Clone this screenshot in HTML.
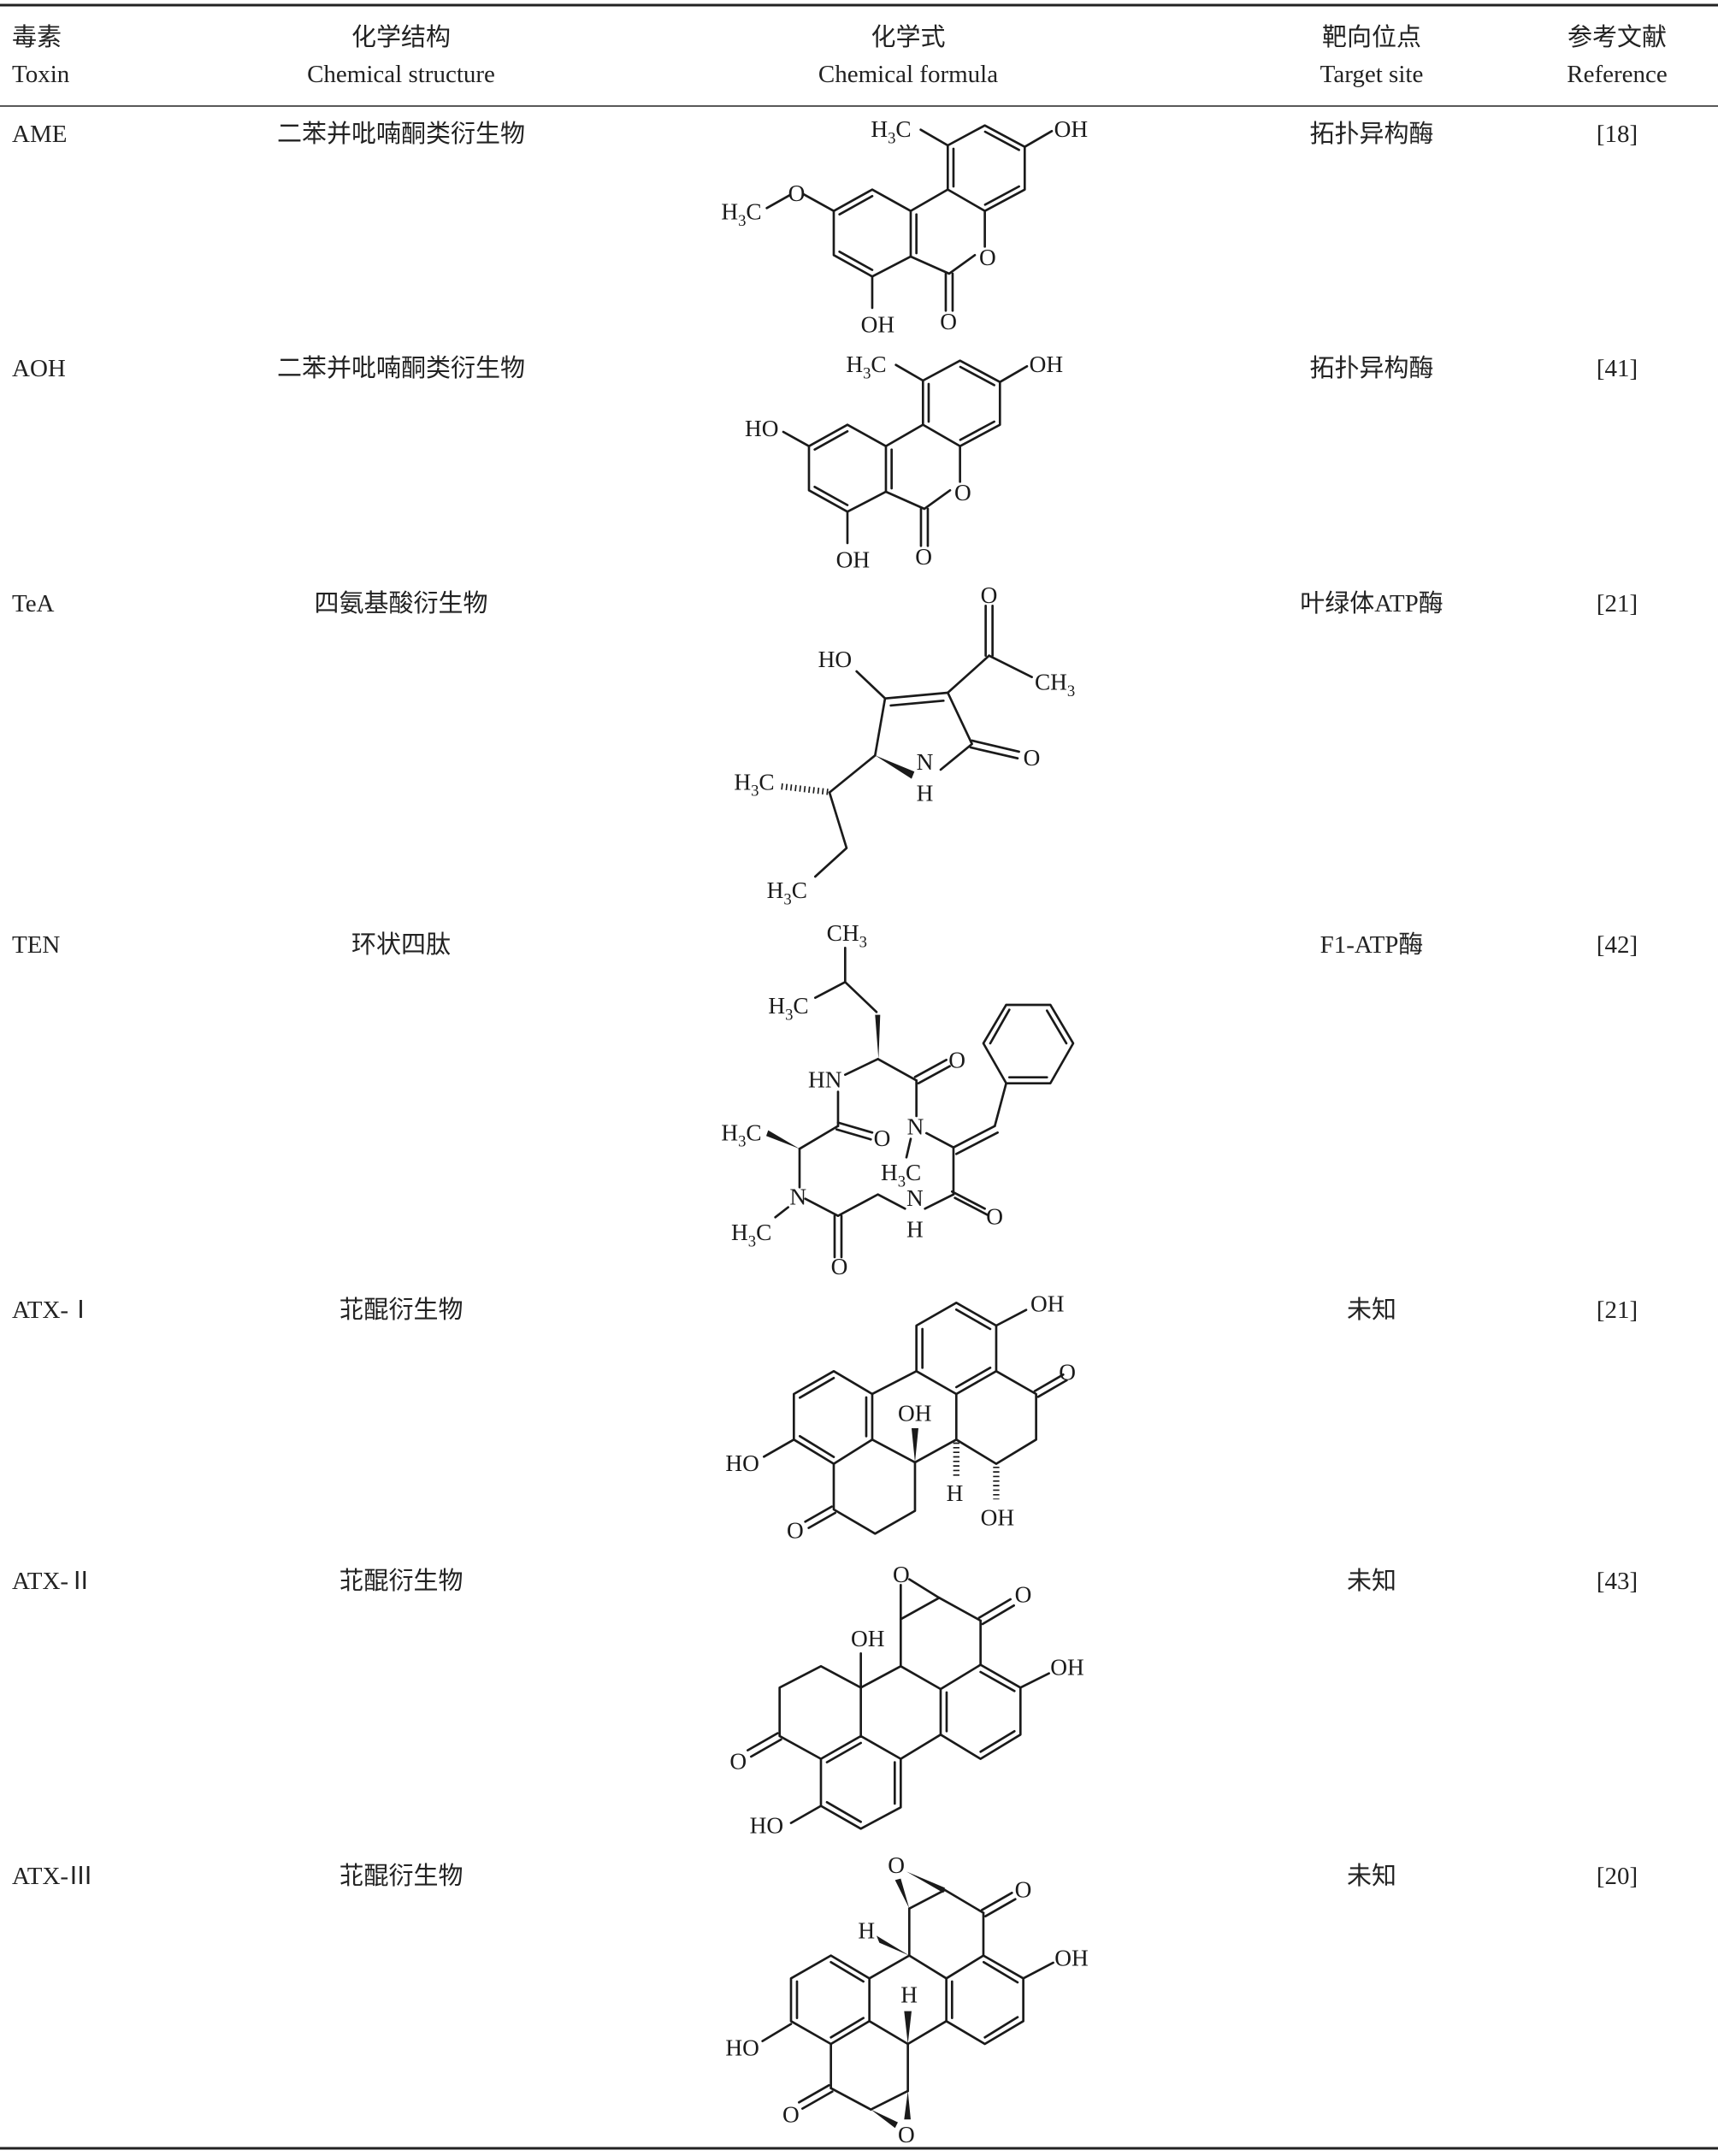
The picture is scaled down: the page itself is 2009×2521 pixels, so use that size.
<!DOCTYPE html>
<html><head><meta charset="utf-8"><style>
html,body{margin:0;padding:0;background:#fff;}
svg{display:block;}
.t{font-family:"Liberation Serif","Noto Sans CJK SC",serif;font-size:29px;fill:#222;}
.m{text-anchor:middle;}
.s line,.s polyline,.s polygon.r{stroke:#1a1a1a;stroke-width:8;fill:none;stroke-linecap:round;stroke-linejoin:round;}
.s polygon.w{fill:#1a1a1a;stroke:none;}
.s line.h{stroke-width:22;stroke-dasharray:5 11;stroke-linecap:butt;}
.s text{font-family:"Liberation Serif",serif;font-size:82px;fill:#1a1a1a;}
.s tspan.b{font-size:56px;}
</style></head><body>
<svg width="2009" height="2521" viewBox="0 0 2009 2521" xmlns="http://www.w3.org/2000/svg">
<rect width="2009" height="2521" fill="#fff"/>
<line x1="0" y1="6" x2="2009" y2="6" stroke="#222" stroke-width="3"/>
<line x1="0" y1="124" x2="2009" y2="124" stroke="#222" stroke-width="1.5"/>
<line x1="0" y1="2512" x2="2009" y2="2512" stroke="#222" stroke-width="3"/>

<text class="t" x="14" y="53">毒素</text><text class="t" x="14" y="96">Toxin</text>
<text class="t m" x="469" y="53">化学结构</text><text class="t m" x="469" y="96">Chemical structure</text>
<text class="t m" x="1062" y="53">化学式</text><text class="t m" x="1062" y="96">Chemical formula</text>
<text class="t m" x="1604" y="53">靶向位点</text><text class="t m" x="1604" y="96">Target site</text>
<text class="t m" x="1891" y="53">参考文献</text><text class="t m" x="1891" y="96">Reference</text>

<text class="t" x="14" y="166">AME</text><text class="t m" x="469" y="166">二苯并吡喃酮类衍生物</text><text class="t m" x="1604" y="166">拓扑异构酶</text><text class="t m" x="1891" y="166">[18]</text>
<text class="t" x="14" y="440">AOH</text><text class="t m" x="469" y="440">二苯并吡喃酮类衍生物</text><text class="t m" x="1604" y="440">拓扑异构酶</text><text class="t m" x="1891" y="440">[41]</text>
<text class="t" x="14" y="715">TeA</text><text class="t m" x="469" y="715">四氨基酸衍生物</text><text class="t m" x="1604" y="715">叶绿体ATP酶</text><text class="t m" x="1891" y="715">[21]</text>
<text class="t" x="14" y="1114">TEN</text><text class="t m" x="469" y="1114">环状四肽</text><text class="t m" x="1604" y="1114">F1-ATP酶</text><text class="t m" x="1891" y="1114">[42]</text>
<text class="t" x="14" y="1541">ATX-Ⅰ</text><text class="t m" x="469" y="1541">苝醌衍生物</text><text class="t m" x="1604" y="1541">未知</text><text class="t m" x="1891" y="1541">[21]</text>
<text class="t" x="14" y="1858">ATX-Ⅱ</text><text class="t m" x="469" y="1858">苝醌衍生物</text><text class="t m" x="1604" y="1858">未知</text><text class="t m" x="1891" y="1858">[43]</text>
<text class="t" x="14" y="2203">ATX-Ⅲ</text><text class="t m" x="469" y="2203">苝醌衍生物</text><text class="t m" x="1604" y="2203">未知</text><text class="t m" x="1891" y="2203">[20]</text>

<!-- AME -->
<g class="s" transform="translate(820,120) scale(0.3333)">
<polygon class="r" points="865,150 995,80 1135,155 1135,305 995,380 865,305"/>
<line x1="885" y1="162" x2="885" y2="294"/><line x1="996" y1="102" x2="1115" y2="166"/><line x1="996" y1="358" x2="1115" y2="294"/>
<polyline points="995,380 995,505"/><polyline points="960,535 870,600 735,540"/>
<polygon class="r" points="735,380 600,305 465,380 465,535 600,610 735,540"/>
<line x1="865" y1="305" x2="735" y2="380"/>
<line x1="600" y1="328" x2="485" y2="392"/><line x1="485" y1="523" x2="600" y2="587"/><line x1="755" y1="392" x2="755" y2="528"/>
<line x1="858" y1="600" x2="858" y2="730"/><line x1="882" y1="600" x2="882" y2="730"/>
<line x1="600" y1="610" x2="600" y2="720"/>
<line x1="865" y1="150" x2="770" y2="95"/><line x1="1135" y1="155" x2="1230" y2="100"/>
<line x1="465" y1="380" x2="360" y2="322"/>
<text x="975" y="570">O</text><text x="838" y="795">O</text><text x="560" y="805">OH</text>
<text x="1238" y="120">OH</text>
<text x="595" y="120">H<tspan class="b" dy="22">3</tspan><tspan dy="-22">C</tspan></text>
<line x1="310" y1="325" x2="230" y2="370"/>
<text x="305" y="345">O</text>
<text x="70" y="410">H<tspan class="b" dy="22">3</tspan><tspan dy="-22">C</tspan></text>
</g>
<!-- AOH -->
<g class="s" transform="translate(791,395) scale(0.3333)">
<polygon class="r" points="865,150 995,80 1135,155 1135,305 995,380 865,305"/>
<line x1="885" y1="162" x2="885" y2="294"/><line x1="996" y1="102" x2="1115" y2="166"/><line x1="996" y1="358" x2="1115" y2="294"/>
<polyline points="995,380 995,505"/><polyline points="960,535 870,600 735,540"/>
<polygon class="r" points="735,380 600,305 465,380 465,535 600,610 735,540"/>
<line x1="865" y1="305" x2="735" y2="380"/>
<line x1="600" y1="328" x2="485" y2="392"/><line x1="485" y1="523" x2="600" y2="587"/><line x1="755" y1="392" x2="755" y2="528"/>
<line x1="858" y1="600" x2="858" y2="730"/><line x1="882" y1="600" x2="882" y2="730"/>
<line x1="600" y1="610" x2="600" y2="720"/>
<line x1="865" y1="150" x2="770" y2="95"/><line x1="1135" y1="155" x2="1230" y2="100"/>
<line x1="465" y1="380" x2="375" y2="330"/>
<text x="975" y="570">O</text><text x="838" y="795">O</text><text x="560" y="805">OH</text>
<text x="1238" y="120">OH</text>
<text x="595" y="120">H<tspan class="b" dy="22">3</tspan><tspan dy="-22">C</tspan></text>
<text x="240" y="345">HO</text>
</g>

<!-- TeA -->
<g class="s" transform="translate(820,670) scale(0.3333)">
<polyline points="610,640 645,440 865,420 950,600 840,690"/>
<line x1="665" y1="465" x2="850" y2="448"/>
<line x1="645" y1="440" x2="545" y2="345"/>
<text x="410" y="330">HO</text>
<line x1="865" y1="420" x2="1010" y2="290"/>
<line x1="998" y1="290" x2="998" y2="115"/><line x1="1022" y1="290" x2="1022" y2="115"/>
<text x="980" y="105">O</text>
<line x1="1010" y1="290" x2="1160" y2="365"/>
<text x="1170" y="410">CH<tspan class="b" dy="22">3</tspan></text>
<line x1="950" y1="588" x2="1115" y2="627"/><line x1="945" y1="612" x2="1110" y2="650"/>
<text x="1130" y="675">O</text>
<text x="755" y="690">N</text><text x="755" y="800">H</text>
<polygon class="w" points="610,640 748,697 738,722"/>
<line x1="610" y1="640" x2="450" y2="770"/>
<line class="h" x1="445" y1="768" x2="275" y2="748"/>
<polyline points="450,770 510,965 400,1065"/>
<text x="115" y="760">H<tspan class="b" dy="22">3</tspan><tspan dy="-22">C</tspan></text>
<text x="230" y="1140">H<tspan class="b" dy="22">3</tspan><tspan dy="-22">C</tspan></text>
</g>

<!-- TEN -->
<g class="s" transform="translate(820,1060) scale(0.3333)">
<text x="440" y="120">CH<tspan class="b" dy="22">3</tspan></text>
<polyline points="505,145 505,265 615,370"/>
<line x1="505" y1="265" x2="400" y2="320"/>
<text x="235" y="375">H<tspan class="b" dy="22">3</tspan><tspan dy="-22">C</tspan></text>
<polygon class="w" points="610,380 628,380 622,535"/>
<line x1="620" y1="535" x2="505" y2="590"/>
<text x="375" y="635">HN</text>
<line x1="620" y1="535" x2="755" y2="610"/>
<line x1="750" y1="598" x2="860" y2="538"/><line x1="762" y1="620" x2="872" y2="560"/>
<text x="868" y="565">O</text>
<line x1="755" y1="610" x2="755" y2="735"/>
<text x="722" y="800">N</text>
<line x1="735" y1="815" x2="720" y2="880"/>
<text x="630" y="960">H<tspan class="b" dy="22">3</tspan><tspan dy="-22">C</tspan></text>
<line x1="790" y1="795" x2="885" y2="845"/>
<line x1="885" y1="845" x2="1030" y2="770"/><line x1="895" y1="868" x2="1040" y2="793"/>
<line x1="1030" y1="770" x2="1070" y2="620"/>
<polygon class="r" points="1070,620 990,480 1070,345 1225,345 1305,480 1225,620"/>
<line x1="1014" y1="480" x2="1081" y2="362"/><line x1="1213" y1="365" x2="1281" y2="480"/><line x1="1213" y1="599" x2="1081" y2="599"/>
<line x1="885" y1="845" x2="885" y2="1010"/>
<line x1="885" y1="1010" x2="785" y2="1060"/>
<line x1="880" y1="1000" x2="995" y2="1060"/><line x1="890" y1="1022" x2="1005" y2="1082"/>
<text x="1000" y="1115">O</text>
<text x="720" y="1050">N</text><text x="720" y="1160">H</text>
<polyline points="715,1060 620,1010 480,1085"/>
<line x1="468" y1="1085" x2="468" y2="1230"/><line x1="492" y1="1085" x2="492" y2="1230"/>
<text x="455" y="1290">O</text>
<line x1="480" y1="1085" x2="365" y2="1025"/>
<text x="310" y="1045">N</text>
<line x1="345" y1="985" x2="345" y2="850"/>
<polygon class="w" points="345,850 235,785 228,805"/>
<text x="70" y="820">H<tspan class="b" dy="22">3</tspan><tspan dy="-22">C</tspan></text>
<line x1="345" y1="850" x2="480" y2="770"/>
<line x1="480" y1="758" x2="600" y2="793"/><line x1="475" y1="782" x2="595" y2="817"/>
<text x="605" y="840">O</text>
<line x1="480" y1="770" x2="480" y2="650"/>
<line x1="305" y1="1055" x2="260" y2="1090"/>
<text x="105" y="1170">H<tspan class="b" dy="22">3</tspan><tspan dy="-22">C</tspan></text>
</g>

<!-- ATX-I -->
<g class="s" transform="translate(820,1500) scale(0.3333)">
<polygon class="r" points="895,70 1035,150 1035,310 895,390 755,310 755,150"/>
<line x1="776" y1="162" x2="776" y2="298"/><line x1="895" y1="94" x2="1014" y2="162"/><line x1="1014" y1="298" x2="895" y2="366"/>
<line x1="1035" y1="150" x2="1140" y2="95"/><text x="1155" y="100">OH</text>
<polyline points="1035,310 1175,390 1175,550 1035,635 895,550 895,390"/>
<line x1="1170" y1="380" x2="1270" y2="322"/><line x1="1182" y1="400" x2="1282" y2="342"/>
<text x="1255" y="340">O</text>
<line class="h" x1="1035" y1="645" x2="1035" y2="760"/>
<text x="980" y="850">OH</text>
<line x1="895" y1="550" x2="750" y2="630"/>
<line class="h" x1="895" y1="560" x2="895" y2="680"/>
<text x="860" y="765">H</text>
<polygon class="r" points="465,310 600,390 600,550 465,635 325,550 325,390"/>
<line x1="465" y1="334" x2="346" y2="403"/><line x1="579" y1="402" x2="579" y2="538"/><line x1="346" y1="538" x2="465" y2="611"/>
<line x1="600" y1="390" x2="755" y2="310"/>
<line x1="600" y1="550" x2="750" y2="630"/>
<polygon class="w" points="750,630 738,510 762,510"/>
<text x="690" y="485">OH</text>
<line x1="325" y1="550" x2="220" y2="610"/><text x="85" y="660">HO</text>
<polyline points="465,635 465,795 610,880 750,800 750,630"/>
<line x1="458" y1="785" x2="365" y2="838"/><line x1="470" y1="807" x2="377" y2="860"/>
<text x="300" y="895">O</text>
</g>

<!-- ATX-II -->
<g class="s" transform="translate(820,1810) scale(0.3333)">
<text x="672" y="120">O</text>
<line x1="700" y1="130" x2="700" y2="250"/><line x1="730" y1="110" x2="835" y2="175"/>
<line x1="700" y1="250" x2="835" y2="175"/>
<line x1="835" y1="175" x2="980" y2="255"/>
<line x1="975" y1="245" x2="1085" y2="180"/><line x1="987" y1="267" x2="1097" y2="202"/>
<text x="1100" y="190">O</text>
<line x1="980" y1="255" x2="980" y2="410"/>
<line x1="700" y1="250" x2="700" y2="415"/>
<line x1="700" y1="415" x2="560" y2="490"/><line x1="700" y1="415" x2="840" y2="495"/>
<polygon class="r" points="980,410 1120,490 1120,655 980,740 840,655 840,495"/>
<line x1="980" y1="435" x2="1099" y2="502"/><line x1="861" y1="507" x2="861" y2="643"/><line x1="1099" y1="643" x2="980" y2="715"/>
<line x1="1120" y1="490" x2="1220" y2="440"/><text x="1225" y="445">OH</text>
<line x1="560" y1="490" x2="560" y2="370"/><text x="525" y="345">OH</text>
<polyline points="560,490 420,415 275,490 275,660 420,740"/>
<line x1="268" y1="650" x2="163" y2="710"/><line x1="280" y1="672" x2="175" y2="732"/>
<text x="100" y="775">O</text>
<line x1="560" y1="490" x2="560" y2="660"/>
<polygon class="r" points="420,740 560,660 700,740 700,910 560,985 420,905"/>
<line x1="700" y1="740" x2="840" y2="655"/>
<line x1="679" y1="752" x2="679" y2="897"/><line x1="560" y1="961" x2="441" y2="892"/><line x1="560" y1="684" x2="441" y2="752"/>
<line x1="420" y1="905" x2="315" y2="965"/><text x="170" y="1000">HO</text>
</g>

<!-- ATX-III -->
<g class="s" transform="translate(820,2160) scale(0.3333)">
<text x="655" y="90">O</text>
<polygon class="w" points="720,85 855,142 850,160"/>
<polygon class="w" points="680,115 700,110 730,215"/>
<line x1="730" y1="215" x2="855" y2="150"/>
<line x1="855" y1="150" x2="990" y2="230"/>
<line x1="985" y1="220" x2="1090" y2="160"/><line x1="997" y1="242" x2="1102" y2="182"/>
<text x="1100" y="175">O</text>
<line x1="990" y1="230" x2="990" y2="380"/>
<line x1="730" y1="215" x2="730" y2="380"/>
<polygon class="w" points="730,380 615,310 625,335"/>
<text x="550" y="320">H</text>
<line x1="730" y1="380" x2="590" y2="460"/><line x1="730" y1="380" x2="860" y2="460"/>
<polygon class="r" points="990,380 1130,460 1130,610 995,690 860,610 860,460"/>
<line x1="991" y1="403" x2="1110" y2="474"/><line x1="880" y1="471" x2="880" y2="599"/><line x1="1110" y1="596" x2="995" y2="667"/>
<line x1="1130" y1="460" x2="1235" y2="405"/><text x="1240" y="415">OH</text>
<polygon class="r" points="455,380 590,460 590,610 455,690 315,610 315,460"/>
<line x1="455" y1="403" x2="569" y2="471"/><line x1="336" y1="471" x2="336" y2="599"/><line x1="569" y1="599" x2="455" y2="667"/>
<line x1="315" y1="620" x2="215" y2="680"/><text x="85" y="730">HO</text>
<line x1="590" y1="610" x2="725" y2="690"/><line x1="860" y1="610" x2="725" y2="690"/>
<polygon class="w" points="725,690 712,575 738,575"/>
<text x="700" y="545">H</text>
<line x1="725" y1="690" x2="725" y2="855"/>
<line x1="455" y1="690" x2="455" y2="845"/>
<line x1="448" y1="835" x2="343" y2="895"/><line x1="460" y1="857" x2="355" y2="917"/>
<text x="285" y="965">O</text>
<line x1="455" y1="845" x2="595" y2="920"/>
<line x1="595" y1="920" x2="725" y2="855"/>
<polygon class="w" points="595,920 690,965 680,985"/>
<polygon class="w" points="725,855 712,955 735,955"/>
<text x="690" y="1035">O</text>
</g>
</svg>
</body></html>
